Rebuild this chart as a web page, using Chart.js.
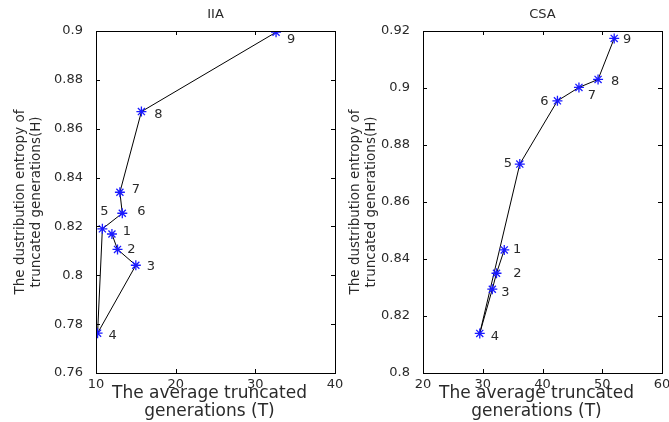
<!DOCTYPE html>
<html>
<head>
<meta charset="utf-8">
<script src="https://cdn.jsdelivr.net/npm/chart.js@4.4.0/dist/chart.umd.min.js"></script>
<style>
  body { margin: 0; background: #fff; }
  #wrap { position: relative; width: 669px; height: 422px; overflow: hidden; }
  canvas { position: absolute; top: 0; }
  #left { left: 0; }
  #right { left: 330px; }
</style>
</head>
<body>
<div id="wrap">
  <canvas id="left" width="345" height="422"></canvas>
  <canvas id="right" width="339" height="422"></canvas>
</div>
<script>
// data
const pointNames = ['1', '2', '3', '4', '5', '6', '7', '8', '9'];
const iiaT = [12.0, 12.7, 15.0, 10.2, 10.8, 13.3, 13.0, 15.7, 32.6];
const iiaH = [0.8169, 0.8106, 0.8041, 0.7763, 0.819, 0.8254, 0.834, 0.867, 0.8995];
const csaT = [33.6, 32.3, 31.6, 29.5, 36.2, 42.5, 46.1, 49.3, 52.0];
const csaH = [0.8432, 0.835, 0.8294, 0.8139, 0.8733, 0.8955, 0.9002, 0.903, 0.9174];

const iiaXTicks = [10, 20, 30, 40];
const iiaYTicks = [0.76, 0.78, 0.8, 0.82, 0.84, 0.86, 0.88, 0.9];
const csaXTicks = [20, 30, 40, 50, 60];
const csaYTicks = [0.8, 0.82, 0.84, 0.86, 0.88, 0.9, 0.92];

const xTitle = ['The average truncated', 'generations (T)'];
const yTitle = ['The dustribution entropy of', 'truncated generations(H)'];

// where the little number sits relative to its marker (px)
const iiaLabelOffsets = [[15, -2], [14, 0], [15, 1], [15, 2], [2, -17], [19, -2], [16, -3], [17, 3], [15, 7]];
const csaLabelOffsets = [[13, 0], [21, 0], [13, 3], [15, 3], [-12, 0], [-13, 1], [13, 8], [17, 2], [13, 1]];

const FONT = '"DejaVu Sans", sans-serif';
const TEXT = '#2a2a2a';

const toPoints = (xs, ys) => xs.map((x, i) => ({ x: x, y: ys[i] }));

const matlabBox = {
    id: 'matlabBox',
    afterDraw(chart, args, opts) {
        const ctx = chart.ctx;
        const a = chart.chartArea;
        const xs = chart.scales.x;
        const ys = chart.scales.y;
        const len = 4;
        ctx.save();
        ctx.strokeStyle = '#000';
        ctx.lineWidth = 1;
        ctx.strokeRect(Math.round(a.left) + 0.5, Math.round(a.top) + 0.5,
            Math.round(a.right - a.left), Math.round(a.bottom - a.top));
        ctx.beginPath();
        xs.ticks.forEach((t) => {
            const px = Math.round(xs.getPixelForValue(t.value)) + 0.5;
            ctx.moveTo(px, a.bottom); ctx.lineTo(px, a.bottom - len);
            ctx.moveTo(px, a.top); ctx.lineTo(px, a.top + len);
        });
        ys.ticks.forEach((t) => {
            const py = Math.round(ys.getPixelForValue(t.value)) + 0.5;
            ctx.moveTo(a.left, py); ctx.lineTo(a.left + len, py);
            ctx.moveTo(a.right, py); ctx.lineTo(a.right - len, py);
        });
        ctx.stroke();

        // title above the box
        ctx.fillStyle = TEXT;
        ctx.textAlign = 'center';
        ctx.textBaseline = 'middle';
        ctx.font = '13px ' + FONT;
        ctx.fillText(opts.title, (a.left + a.right) / 2, 15);

        // x axis title, two lines
        ctx.font = '17px ' + FONT;
        const cx = (a.left + a.right) / 2 - 6;
        ctx.fillText(xTitle[0], cx, 394);
        ctx.fillText(xTitle[1], cx, 412);

        // y axis title, rotated
        ctx.font = '13.5px ' + FONT;
        const cy = (a.top + a.bottom) / 2;
        ctx.translate(opts.yTitleX, cy);
        ctx.rotate(-Math.PI / 2);
        ctx.fillText(yTitle[0], 0, 0);
        ctx.fillText(yTitle[1], 0, 16);
        ctx.restore();

        // point numbers
        const meta = chart.getDatasetMeta(0);
        ctx.save();
        ctx.fillStyle = TEXT;
        ctx.font = '13px ' + FONT;
        ctx.textAlign = 'center';
        ctx.textBaseline = 'middle';
        meta.data.forEach((el, i) => {
            const off = opts.offsets[i];
            ctx.fillText(pointNames[i], el.x + off[0], el.y + off[1]);
        });
        ctx.restore();
    }
};

const makeChart = (canvas, title, xs, ys, xTicks, yTicks, offsets, yAxisWidth, padRight, yTitleX) => {
    return new Chart(canvas, {
        type: 'scatter',
        data: {
            datasets: [{
                data: toPoints(xs, ys),
                showLine: true,
                borderColor: '#000',
                borderWidth: 1,
                pointStyle: 'star',
                pointRadius: 5,
                pointBorderWidth: 1.3,
                pointBorderColor: '#1a1aff',
                pointBackgroundColor: '#1a1aff',
                tension: 0,
            }],
        },
        options: {
            responsive: false,
            animation: false,
            events: [],
            layout: { padding: { top: 31, right: padRight, left: 0, bottom: 0 } },
            plugins: {
                legend: { display: false },
                tooltip: { enabled: false },
                matlabBox: { title: title, offsets: offsets, yTitleX: yTitleX },
            },
            scales: {
                x: {
                    type: 'linear',
                    min: xTicks[0],
                    max: xTicks[xTicks.length - 1],
                    grid: { display: false },
                    border: { display: false },
                    afterBuildTicks: (s) => { s.ticks = xTicks.map((v) => ({ value: v })); },
                    afterFit: (s) => { s.height = 49; },
                    ticks: {
                        color: TEXT,
                        font: { family: FONT, size: 13 },
                        padding: -4,
                        maxRotation: 0,
                        callback: (v) => String(v),
                    },
                },
                y: {
                    type: 'linear',
                    min: yTicks[0],
                    max: yTicks[yTicks.length - 1],
                    grid: { display: false },
                    border: { display: false },
                    afterBuildTicks: (s) => { s.ticks = yTicks.map((v) => ({ value: v })); },
                    afterFit: (s) => { s.width = yAxisWidth; },
                    ticks: {
                        color: TEXT,
                        font: { family: FONT, size: 13 },
                        padding: 5,
                        callback: (v) => String(v),
                    },
                },
            },
        },
        plugins: [matlabBox],
    });
};

makeChart(document.querySelector('#left'), 'IIA', iiaT, iiaH, iiaXTicks, iiaYTicks,
    iiaLabelOffsets, 96, 10, 20);
makeChart(document.querySelector('#right'), 'CSA', csaT, csaH, csaXTicks, csaYTicks,
    csaLabelOffsets, 93, 7, 25);
</script>
</body>
</html>
